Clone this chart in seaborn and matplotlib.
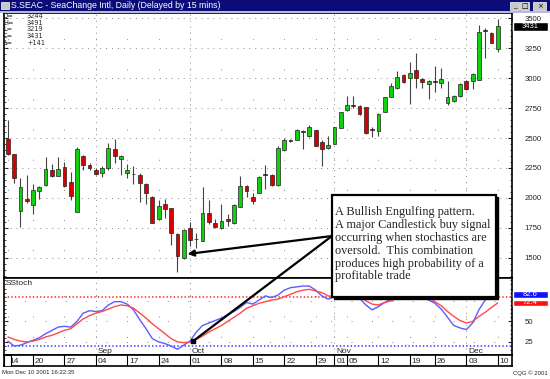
import numpy as np
import pandas as pd
import matplotlib
matplotlib.use("Agg")
import matplotlib.pyplot as plt
import matplotlib.transforms as mtransforms
import seaborn as sns
from matplotlib.patches import Rectangle, ConnectionPatch

# S.SEAC daily bars, Aug 14 - Dec 10 2001
opens = [2489, 2364, 1894, 1990, 1942, 2061, 2108, 2233, 2183, 2261,
         2136, 1886, 2353, 2275, 2233, 2206, 2247, 2406, 2322, 2206,
         2203, 2192, 2117, 2011, 1828, 1950, 1914, 1700, 1497, 1747,
         1662, 1644, 1878, 1789, 1747, 1822, 1789, 1928, 2100, 2011,
         2044, 2200, 2192, 2108, 2400, 2481, 2483, 2556, 2517, 2567,
         2469, 2414, 2450, 2581, 2733, 2775, 2767, 2761, 2575, 2561,
         2719, 2844, 2914, 3025, 2997, 3067, 2994, 2950, 2972, 2961,
         2794, 2811, 2850, 2978, 2978, 2983, 3397, 3378, 3244]
highs = [2650, 2370, 2164, 2192, 2117, 2100, 2344, 2283, 2344, 2300,
         2219, 2428, 2360, 2294, 2247, 2267, 2461, 2489, 2356, 2283,
         2267, 2211, 2125, 2015, 1983, 1989, 1920, 1705, 1740, 1803,
         1711, 2094, 1983, 1828, 1950, 1867, 1950, 2183, 2105, 2044,
         2180, 2275, 2197, 2433, 2497, 2490, 2572, 2565, 2608, 2570,
         2486, 2517, 2594, 2719, 2853, 2853, 2775, 2761, 2589, 2705,
         2844, 2961, 3061, 3033, 3133, 3208, 2998, 2985, 3100, 3083,
         2972, 2855, 2958, 2985, 3040, 3442, 3420, 3380, 3491]
lows = [2355, 2127, 1761, 1958, 1867, 1990, 2100, 2178, 2180, 2094,
        1983, 1886, 2233, 2233, 2192, 2172, 2233, 2289, 2192, 2164,
        2117, 1964, 1950, 1789, 1822, 1831, 1606, 1383, 1495, 1600,
        1583, 1640, 1783, 1747, 1739, 1767, 1783, 1922, 2011, 1950,
        2039, 2072, 2100, 2100, 2395, 2470, 2480, 2405, 2510, 2433,
        2264, 2405, 2450, 2581, 2725, 2750, 2690, 2533, 2508, 2519,
        2719, 2840, 2905, 2960, 2783, 2914, 2914, 2825, 2883, 2919,
        2775, 2800, 2845, 2900, 2906, 2980, 3167, 3290, 3219]
closes = [2364, 2164, 2089, 1978, 2067, 2094, 2239, 2183, 2244, 2100,
          2017, 2406, 2275, 2247, 2200, 2247, 2414, 2350, 2350, 2233,
          2197, 2122, 2044, 1794, 1933, 1906, 1706, 1517, 1733, 1650,
          1655, 1878, 1803, 1761, 1811, 1806, 1942, 2100, 2058, 1978,
          2178, 2194, 2108, 2414, 2483, 2476, 2567, 2550, 2589, 2433,
          2406, 2442, 2589, 2719, 2775, 2769, 2700, 2544, 2569, 2700,
          2844, 2933, 3011, 2969, 3044, 2997, 2969, 2978, 2966, 2989,
          2839, 2850, 2950, 2906, 3033, 3386, 3391, 3290, 3431]

# slow stochastic (%K blue, %D red)
stoch_k = [26, 20, 21, 24, 27, 30, 35, 39, 43, 44,
           43, 50, 60, 63, 62, 63, 70, 74, 74, 71,
           64, 52, 41, 29, 25, 23, 20, 16, 21, 26,
           37, 45, 48, 51, 54, 58, 62, 67, 73, 71,
           76, 81, 79, 82, 88, 91, 92, 93, 93, 88,
           81, 77, 80, 86, 90, 86, 78, 70, 64, 68,
           73, 77, 84, 88, 90, 88, 80, 76, 72, 65,
           55, 45, 42, 40, 48, 64, 76, 80, 82.6]
stoch_d = [31, 28, 26, 25, 26, 28, 31, 33, 36, 39,
           41, 47, 53, 57, 60, 62, 65, 68, 70, 69,
           66, 60, 54, 47, 41, 35, 29, 25, 24, 25,
           28, 32, 37, 41, 45, 50, 55, 60, 66, 69,
           72, 74, 76, 77, 80, 83, 86, 88, 89, 87,
           85, 81, 80, 81, 84, 85, 81, 75, 71, 70,
           73, 75, 78, 83, 86, 87, 84, 79, 74, 69,
           62, 56, 51, 48, 50, 56, 61, 67, 72.4]

holidays = ["2001-09-03", "2001-09-11", "2001-09-12", "2001-09-13",
            "2001-09-14", "2001-11-22"]
price_ticks = [1500, 1750, 2000, 2250, 2500, 2750, 3000, 3250, 3500]
stoch_ticks = [25, 50]
note = ("A Bullish Engulfing pattern.\n"
        "A major Candlestick buy signal\n"
        "occurring when stochastics are\n"
        "oversold.  This combination\n"
        "produces high probability of a\n"
        "profitable trade")

dates = pd.bdate_range("2001-08-14", "2001-12-10")
dates = dates[~dates.isin(pd.to_datetime(holidays))]
df = pd.DataFrame({"date": dates, "open": opens, "high": highs, "low": lows,
                   "close": closes, "k": stoch_k, "d": stoch_d})
df["pos"] = np.arange(len(df))
week = df["date"].dt.isocalendar().week
new_week = week.ne(week.shift())
new_month = df["date"].dt.month.ne(df["date"].dt.month.shift())
tick_rows = df[new_week | new_month]
# a one-day week (Sep 10) gets no label of its own
gap_next = tick_rows["pos"].shift(-1) - tick_rows["pos"]
tick_rows = tick_rows[~(gap_next <= 1)]
month_rows = df[new_month & (df["pos"] > 0)]

sns.set_style("white")
plt.rcParams["font.family"] = ["Liberation Sans", "DejaVu Sans"]
plt.rcParams["lines.scale_dashes"] = False

W, H = 550, 379
fig = plt.figure(figsize=(W / 100, H / 100), dpi=100)


def px_box(x0, y0, x1, y1):
    return [x0 / W, 1 - y1 / H, (x1 - x0) / W, (y1 - y0) / H]


ax = fig.add_axes(px_box(4, 13, 512, 278))
ax_st = fig.add_axes(px_box(4, 278, 512, 355))
ax_dt = fig.add_axes(px_box(4, 355, 512, 366))
xlim = (-0.62, 80.27)

# ---- candles ----
up = df["close"] >= df["open"]
cols = np.where(up, "#10d010", "#d80000")
ax.vlines(df["pos"], df["low"], df["high"], color="#444444", lw=0.8, zorder=2)
ax.bar(df["pos"], df["close"] - df["open"], bottom=df["open"], width=0.6,
       color=cols, edgecolor="#222222", linewidth=0.5, zorder=3)
ax.set_xlim(xlim)
ax.set_ylim(1333, 3542)

for t in price_ticks:
    ax.axhline(t, color="#888888", lw=0.7, ls=(0, (0.7, 3.6)), zorder=1)
for p in tick_rows["pos"]:
    ax.axvline(p, color="#888888", lw=0.7, ls=(2, (0.7, 21)), zorder=1)
    ax_st.axvline(p, color="#888888", lw=0.7, ls=(2, (0.7, 14)), zorder=1)
for p in month_rows["pos"]:
    ax.axvline(p, color="#888888", lw=0.7, ls=(0, (0.7, 3.6)), zorder=1)
    ax_st.axvline(p, color="#888888", lw=0.7, ls=(0, (0.7, 3.6)), zorder=1)

ax.yaxis.tick_right()
ax.set_yticks(price_ticks)
ax.set_yticks(np.arange(1350, 3550, 50), minor=True)
ax.tick_params(axis="y", which="major", direction="in", length=3, labelsize=5.6,
               pad=9, right=True, left=True)
ax.tick_params(axis="y", which="minor", direction="in", length=1.5,
               right=True, left=True)
ax.set_xticks([])

# ---- stochastic ----
sns.lineplot(data=df, x="pos", y="k", ax=ax_st, color="#5c5cff", lw=1.0, zorder=3)
sns.lineplot(data=df, x="pos", y="d", ax=ax_st, color="#ff4a4a", lw=1.0, zorder=3)
ax_st.axhline(80, color="#ff3030", lw=1.2, ls=(0, (1, 1.6)), zorder=2)
ax_st.axhline(20, color="#4040ff", lw=1.2, ls=(0, (1, 1.6)), zorder=2)
for t in [25, 50, 75]:
    ax_st.axhline(t, color="#888888", lw=0.7, ls=(0, (0.7, 14)), zorder=1)
ax_st.set_xlim(xlim)
ax_st.set_ylim(9.05, 102.8)
ax_st.set_xlabel("")
ax_st.set_ylabel("")
ax_st.set_xticks([])
ax_st.yaxis.tick_right()
ax_st.set_yticks(stoch_ticks)
ax_st.set_yticks(np.arange(15, 101, 5), minor=True)
ax_st.tick_params(axis="y", which="major", direction="in", length=3,
                  labelsize=5.6, pad=9, right=True, left=True)
ax_st.tick_params(axis="y", which="minor", direction="in", length=1.5,
                  right=True, left=True)
ax_st.text(0.003, 0.93, "SStoch", transform=ax_st.transAxes, fontsize=6,
           va="center", ha="left")
for _, r in month_rows.iterrows():
    ax_st.text(r["pos"] + 0.3, 13, r["date"].strftime("%b"), fontsize=6,
               va="center", ha="left")

# ---- date strip ----
ax_dt.set_xlim(xlim)
ax_dt.set_ylim(0, 1)
ax_dt.set_xticks([])
ax_dt.set_yticks([])
for _, r in tick_rows.iterrows():
    ax_dt.axvline(r["pos"], color="black", lw=0.8)
    ax_dt.text(r["pos"] + 0.3, 0.45, r["date"].strftime("%d"), fontsize=6,
               va="center", ha="left")
ax_dt.add_patch(Rectangle((xlim[0], 0), 1.1, 1, facecolor="white",
                          edgecolor="black", lw=0.8, zorder=5))

for a in (ax, ax_st, ax_dt):
    for s in a.spines.values():
        s.set_color("black")
        s.set_linewidth(1.2)

# ---- last value flags on the right scale ----
tr = mtransforms.blended_transform_factory(ax.transAxes, ax.transData)
ax.add_patch(Rectangle((1.002, closes[-1] - 35), 0.069, 70, transform=tr,
                       facecolor="black", clip_on=False, zorder=5))
ax.text(1.035, closes[-1], f"{closes[-1]}", transform=tr, color="white",
        fontsize=5.5, ha="center", va="center", zorder=6)
tr2 = mtransforms.blended_transform_factory(ax_st.transAxes, ax_st.transData)
for val, colr in [(stoch_k[-1], "#1010ff"), (stoch_d[-1], "#ff1010")]:
    ax_st.add_patch(Rectangle((1.002, val - 4), 0.069, 8, transform=tr2,
                              facecolor=colr, clip_on=False, zorder=5))
    ax_st.text(1.035, val, f"{val:.1f}", transform=tr2, color="white",
               fontsize=5.5, ha="center", va="center", zorder=6)

# ---- header / window chrome ----
fig.patches.append(Rectangle((0, 1 - 11 / H), 1, 11 / H, transform=fig.transFigure,
                             facecolor="#0c0c78", edgecolor="none", zorder=0))
fig.patches.append(Rectangle((0, 1 - 13 / H), 1, 2 / H, transform=fig.transFigure,
                             facecolor="#b8bcd0", edgecolor="none", zorder=0))
fig.patches.append(Rectangle((1 / W, 1 - 9 / H), 8 / W, 7 / H, transform=fig.transFigure,
                             facecolor="#c8c8c8", edgecolor="white", lw=0.5, zorder=1))
fig.text(11 / W, 1 - 5.5 / H, "S.SEAC - SeaChange Intl, Daily (Delayed by 15 mins)",
         color="white", fontsize=6.3, va="center", ha="left")
for x0, x1, sym in [(510, 519, "_"), (520, 529, "□"), (533, 546, "×")]:
    fig.patches.append(Rectangle((x0 / W, 1 - 10 / H), (x1 - x0) / W, 8 / H,
                                 transform=fig.transFigure, facecolor="#c8c8c8",
                                 edgecolor="white", lw=0.5, zorder=1))
    fig.text((x0 + x1) / 2 / W, 1 - 6 / H, sym, fontsize=5, ha="center",
             va="center", color="black", family=["DejaVu Sans"])

last = df.iloc[-1]
change = last["close"] - df["close"].iloc[-2]
hdr = [("O=", f"{last['open']}"), ("H=", f"{last['high']}"),
       ("L=", f"{last['low']}"), ("C=", f"{last['close']}"),
       ("Δ=", f"{change:+d}")]
for i, (lab, val) in enumerate(hdr):
    yy = 1 - (16 + i * 6.7) / H
    fig.text(3 / W, yy, lab, fontsize=4.8, va="center", family=["DejaVu Sans"])
    fig.text(27 / W, yy, val, fontsize=4.8, va="center", family=["DejaVu Sans"])

fig.text(2 / W, 1 - 373 / H, "Mon Dec 10 2001 16:22:35", fontsize=4.3, va="center")
fig.text(548 / W, 1 - 373 / H, "CQG © 2001", fontsize=4.3, va="center", ha="right")

# ---- call-out box and arrows ----
bx0, by0, bx1, by1 = 332, 195, 496, 297
fig.patches.append(Rectangle(((bx0 + 2) / W, 1 - (by1 + 2) / H), (bx1 - bx0) / W,
                             (by1 - by0) / H, transform=fig.transFigure,
                             facecolor="black", edgecolor="black", zorder=8))
fig.patches.append(Rectangle((bx0 / W, 1 - by1 / H), (bx1 - bx0) / W,
                             (by1 - by0) / H, transform=fig.transFigure,
                             facecolor="white", edgecolor="black", lw=1.6, zorder=9))
fig.text((bx0 + 3) / W, 1 - 206 / H, note, fontsize=8.8, va="top", ha="left",
         family=["Liberation Serif"], linespacing=1.1, zorder=10)

engulf = df.iloc[28]
start = (bx0 / W, 1 - 236 / H)
arr1 = ConnectionPatch(xyA=start, coordsA="figure fraction",
                       xyB=(engulf["pos"] + 0.6, 1533), coordsB=ax.transData,
                       arrowstyle="-|>", mutation_scale=9, lw=1.6, color="black",
                       zorder=7)
fig.add_artist(arr1)
low_pt = (df["pos"].iloc[29] + 0.5, 26)
arr2 = ConnectionPatch(xyA=start, coordsA="figure fraction",
                       xyB=low_pt, coordsB=ax_st.transData,
                       arrowstyle="-", lw=1.6, color="black", zorder=7)
fig.add_artist(arr2)
ax_st.plot(*low_pt, marker="s", ms=3.5, color="black", zorder=6)

fig.savefig("out.png", dpi=100)
